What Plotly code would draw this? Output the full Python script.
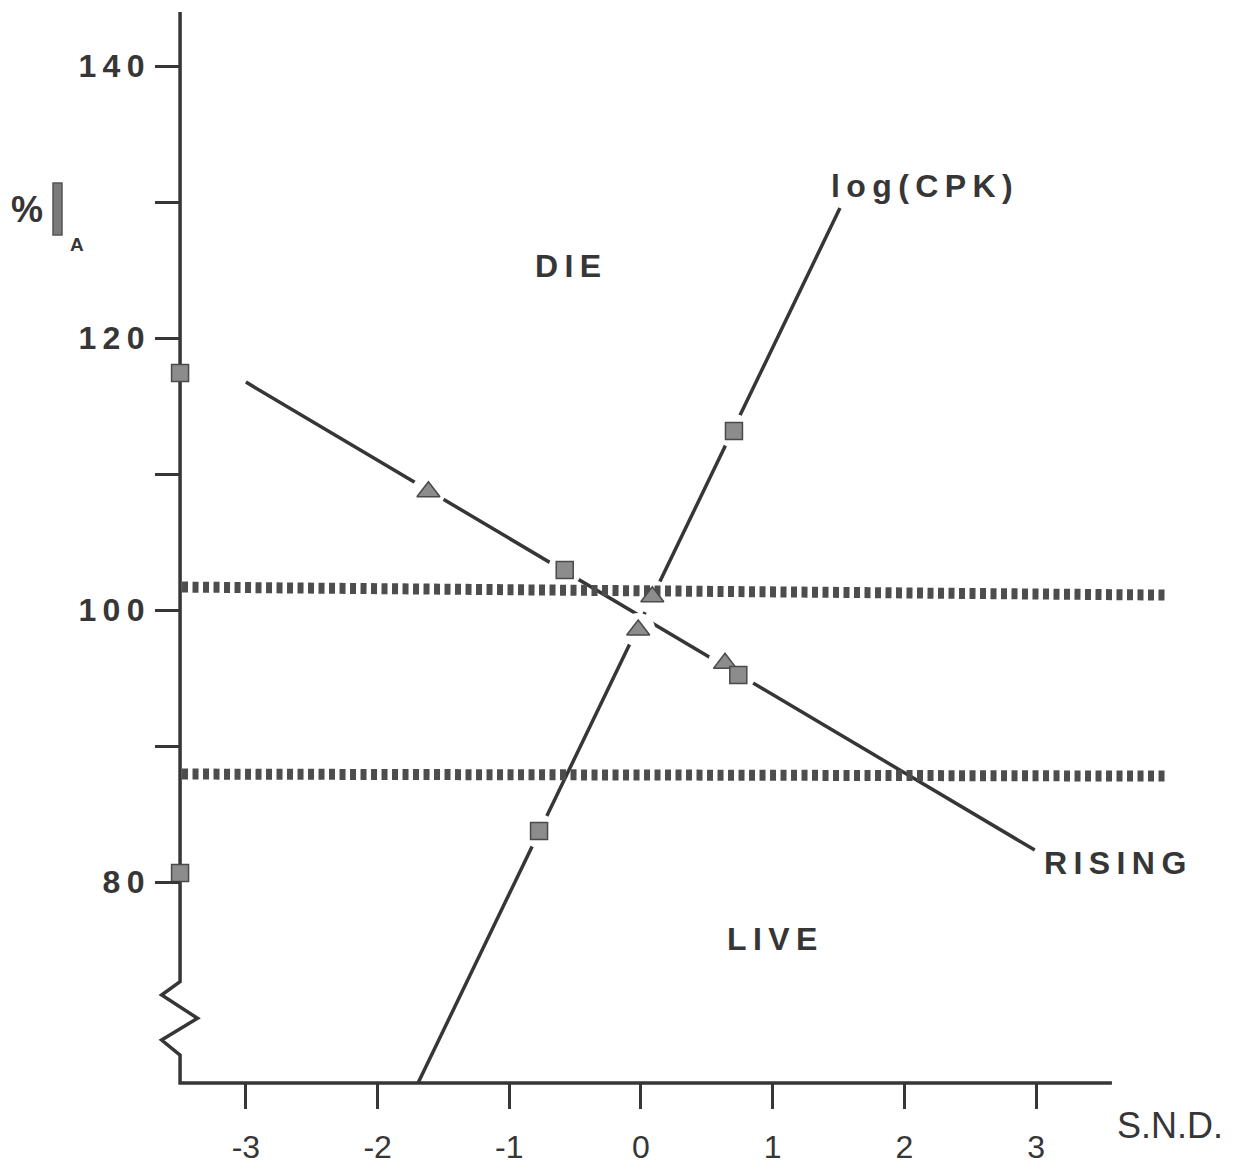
import plotly.graph_objects as go

# ---------------- data ----------------
snd_ticks = [-3, -2, -1, 0, 1, 2, 3]
snd_tick_labels = ["-3", "-2", "-1", "0", "1", "2", "3"]
pct_ticks = [80, 90, 100, 110, 120, 130, 140]
pct_tick_labels = ["80", "", "100", "", "120", "", "140"]

rising_line_x = [-3.0, 2.99]
rising_line_y = [116.76, 82.35]
rising_tri_x = [-1.614, 0.638]
rising_tri_y = [108.70, 96.08]
rising_sq_x = [-0.579, 0.739]
rising_sq_y = [102.94, 95.22]

cpk_line_x = [-1.693, 1.511]
cpk_line_y = [65.22, 129.56]
cpk_tri_x = [-0.021, 0.086]
cpk_tri_y = [98.53, 100.98]
cpk_sq_x = [-0.774, 0.706]
cpk_sq_y = [83.75, 113.16]

axis_sq_x = [-3.5, -3.5]
axis_sq_y = [117.43, 80.66]

upper_band_x = [-3.485, 4.0]
upper_band_y = [101.69, 101.10]
lower_band_x = [-3.485, 4.0]
lower_band_y = [87.94, 87.79]

# ---------------- layout geometry ----------------
W, H = 1241, 1170
ML, MR, MT, MB = 147, 66, 5, 75
PW, PH = W - ML - MR, H - MT - MB
X_RANGE = [-3.751, 4.055]
Y_RANGE = [64.34, 144.49]
AXIS_X = -3.5
AXIS_Y = 65.22
Y_TOP = 143.97
X_END = 3.576


def px_x(p):
    return (p - ML) / PW


def px_y(p):
    return (H - MB - p) / PH


def spaced(s, sep="\u2009"):
    return sep.join(s)


INK = "#363636"
MARK_FILL = "#8c8c8c"
MARK_EDGE = "#4a4a4a"
BOLD_FONT = "Liberation Sans, Arial, sans-serif"
REG_FONT = "Liberation Sans, Arial, sans-serif"

fig = go.Figure()

# fitted lines
fig.add_trace(go.Scatter(x=rising_line_x, y=rising_line_y, mode="lines",
                         line=dict(color=INK, width=3.5), hoverinfo="skip"))
fig.add_trace(go.Scatter(x=cpk_line_x, y=cpk_line_y, mode="lines",
                         line=dict(color=INK, width=3.5), hoverinfo="skip"))

# white halos producing the gaps in lines around the points
halo_x = rising_tri_x + rising_sq_x + cpk_tri_x + cpk_sq_x
halo_y = rising_tri_y + rising_sq_y + cpk_tri_y + cpk_sq_y
fig.add_trace(go.Scatter(x=halo_x, y=halo_y, mode="markers",
                         marker=dict(symbol="circle", size=34, color="white",
                                     line=dict(width=0)),
                         hoverinfo="skip"))

# dotted threshold bands
for bx, by in ((upper_band_x, upper_band_y), (lower_band_x, lower_band_y)):
    fig.add_trace(go.Scatter(x=bx, y=by, mode="lines",
                             line=dict(color="#4d4d4d", width=11, dash="6px,4.5px"),
                             hoverinfo="skip"))

# markers
sq_marker = dict(symbol="square", size=17, color=MARK_FILL,
                 line=dict(color=MARK_EDGE, width=1.5))
tri_marker = dict(symbol="triangle-up", size=20, color=MARK_FILL,
                  line=dict(color=MARK_EDGE, width=1.5))
fig.add_trace(go.Scatter(x=rising_tri_x, y=rising_tri_y, mode="markers", marker=tri_marker))
fig.add_trace(go.Scatter(x=cpk_tri_x, y=cpk_tri_y, mode="markers", marker=tri_marker))
fig.add_trace(go.Scatter(x=rising_sq_x, y=rising_sq_y, mode="markers", marker=sq_marker))
fig.add_trace(go.Scatter(x=cpk_sq_x, y=cpk_sq_y, mode="markers", marker=sq_marker))
fig.add_trace(go.Scatter(x=axis_sq_x, y=axis_sq_y, mode="markers", marker=sq_marker))

# axes frame with break (zigzag) on the y axis
zig = [(AXIS_X, Y_TOP), (AXIS_X, 72.67), (-3.64, 71.69), (-3.367, 69.98),
       (-3.64, 68.38), (AXIS_X, 67.28), (AXIS_X, AXIS_Y), (X_END, AXIS_Y)]
path = "M " + " L ".join(f"{x},{y}" for x, y in zig)
shapes = [
    dict(type="path", xref="x", yref="y", path=path,
         line=dict(color=INK, width=3.5), layer="below"),
    dict(type="rect", xref="paper", yref="paper",
         x0=px_x(53), x1=px_x(62), y0=px_y(235), y1=px_y(183),
         fillcolor="#7a7a7a", line=dict(color="#555555", width=1.5)),
]


def ann(text, px, py, size, bold=True, family=BOLD_FONT):
    return dict(text=f"<b>{text}</b>" if bold else text,
                xref="paper", yref="paper", x=px_x(px), y=px_y(py),
                xanchor="center", yanchor="middle", showarrow=False,
                font=dict(family=family, size=size, color=INK))


annotations = [
    ann(spaced("log(CPK)"), 922, 186, 32),
    ann(spaced("DIE"), 568, 266, 32),
    ann(spaced("LIVE"), 772, 939, 32),
    ann(spaced("RISING"), 1115, 863, 32),
    ann("S.N.D.", 1170, 1125, 36, bold=False, family=REG_FONT),
    ann("%", 27, 210, 36),
    ann("A", 77, 244, 19),
]

fig.update_layout(
    width=W, height=H,
    margin=dict(l=ML, r=MR, t=MT, b=MB, autoexpand=False),
    paper_bgcolor="white", plot_bgcolor="white",
    showlegend=False,
    shapes=shapes,
    annotations=annotations,
    xaxis=dict(range=X_RANGE, anchor="free", position=px_y(1083),
               automargin=False,
               showline=False, showgrid=False, zeroline=False,
               ticks="outside", ticklen=25, tickwidth=3, tickcolor=INK,
               tickvals=snd_ticks, ticktext=snd_tick_labels,
               ticklabelstandoff=11,
               tickfont=dict(family=REG_FONT, size=32, color=INK)),
    yaxis=dict(range=Y_RANGE, anchor="free", position=px_x(180),
               automargin=False,
               showline=False, showgrid=False, zeroline=False,
               ticks="outside", ticklen=25, tickwidth=3, tickcolor=INK,
               tickvals=pct_ticks,
               ticktext=[spaced(t) for t in pct_tick_labels],
               ticklabelstandoff=4,
               tickfont=dict(family=BOLD_FONT, size=32, color=INK, weight="bold")),
)

fig.write_html("out.html")
